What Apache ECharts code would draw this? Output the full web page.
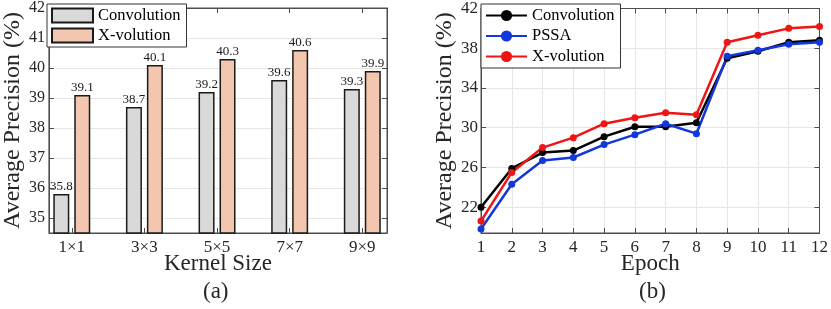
<!DOCTYPE html>
<html>
<head>
<meta charset="utf-8">
<script src="https://cdn.jsdelivr.net/npm/echarts@6/dist/echarts.min.js"></script>
<style>html,body{margin:0;padding:0;background:#fff}#c{width:831px;height:309px}</style>
</head>
<body>
<div id="c"></div>
<script>
// ---- data ----
const kernelSizes = ['1\u00d71', '3\u00d73', '5\u00d75', '7\u00d77', '9\u00d79'];
const convBars = [35.8, 38.7, 39.2, 39.6, 39.3];
const xvolBars = [39.1, 40.1, 40.3, 40.6, 39.9];
const barTicks = [35, 36, 37, 38, 39, 40, 41, 42];

const epochs = [1, 2, 3, 4, 5, 6, 7, 8, 9, 10, 11, 12];
const convLine = [22.0, 25.9, 27.5, 27.7, 29.1, 30.1, 30.1, 30.5, 37.0, 37.7, 38.6, 38.8];
const pssaLine = [19.8, 24.3, 26.7, 27.0, 28.3, 29.3, 30.4, 29.4, 37.2, 37.8, 38.4, 38.6];
const xvolLine = [20.6, 25.5, 28.0, 29.0, 30.4, 31.0, 31.5, 31.3, 38.6, 39.3, 40.0, 40.2];
const lineTicks = [22, 26, 30, 34, 38, 42];

const FONT = '"Liberation Serif", "Times New Roman", serif';
const AX = '#4d4d4d';
const TXT = '#262626';
const GRIDC = '#e6e6e6';

const chart = echarts.init(document.getElementById('c'), null, {renderer: 'canvas'});

function pairs(xs, ys) { return xs.map((x, i) => [x, ys[i]]); }
const barIdx = kernelSizes.map((k, i) => i + 1);

const legendText = {fontFamily: FONT, fontSize: 16.5, color: '#000'};

const option = {
  animation: false,
  backgroundColor: '#fff',
  textStyle: {fontFamily: FONT},
  grid: [
    {left: 47, right: 444, top: 6, bottom: 76, show: true, borderColor: AX, borderWidth: 1, backgroundColor: 'transparent'},
    {left: 481, right: 10, top: 6, bottom: 76, show: true, borderColor: AX, borderWidth: 1, backgroundColor: 'transparent'}
  ],
  legend: [
    {
      left: 47, top: 4, orient: 'vertical', icon: 'rect',
      itemWidth: 41, itemHeight: 14, itemGap: 3,
      padding: [3, 6, 3, 4],
      backgroundColor: '#fff', borderColor: '#333', borderWidth: 1,
      textStyle: legendText,
      data: ['Convolution', 'X-volution']
    },
    {
      left: 481, top: 4, orient: 'vertical',
      itemWidth: 41, itemHeight: 14, itemGap: 3.5,
      padding: [3, 6, 3, 4],
      backgroundColor: '#fff', borderColor: '#333', borderWidth: 1,
      textStyle: legendText,
      formatter: n => n.split('#')[0],
      data: ['Convolution#b', 'PSSA#b', 'X-volution#b']
    }
  ],
  xAxis: [
    {
      gridIndex: 0, type: 'value', min: 0.685, max: 5.34,
      name: 'Kernel Size', nameLocation: 'middle', nameGap: 19, nameMoveOverlap: false,
      nameTextStyle: {fontFamily: FONT, fontSize: 23, color: TXT},
      axisLine: {show: true, lineStyle: {color: AX}},
      axisTick: {show: true, inside: true, length: 5, customValues: barIdx, lineStyle: {color: AX}},
      axisLabel: {customValues: barIdx, formatter: v => kernelSizes[Math.round(v) - 1] || '', fontFamily: FONT, fontSize: 17, color: TXT, margin: 6},
      splitLine: {show: false}
    },
    {
      gridIndex: 0, type: 'value', min: 0.685, max: 5.34, position: 'top',
      axisLine: {show: true, lineStyle: {color: AX}},
      axisTick: {show: true, inside: true, length: 5, customValues: barIdx, lineStyle: {color: AX}},
      axisLabel: {show: false},
      splitLine: {show: false}
    },
    {
      gridIndex: 1, type: 'value', min: 1, max: 12, interval: 1,
      name: 'Epoch', nameLocation: 'middle', nameGap: 19, nameMoveOverlap: false,
      nameTextStyle: {fontFamily: FONT, fontSize: 23, color: TXT},
      axisLine: {show: true, lineStyle: {color: AX}},
      axisTick: {show: true, inside: true, length: 5, lineStyle: {color: AX}},
      axisLabel: {fontFamily: FONT, fontSize: 17, color: TXT, margin: 6},
      splitLine: {show: true, lineStyle: {color: GRIDC, width: 1}}
    },
    {
      gridIndex: 1, type: 'value', min: 1, max: 12, interval: 1, position: 'top',
      axisLine: {show: true, lineStyle: {color: AX}},
      axisTick: {show: true, inside: true, length: 5, lineStyle: {color: AX}},
      axisLabel: {show: false},
      splitLine: {show: false}
    }
  ],
  yAxis: [
    {
      gridIndex: 0, type: 'value', min: 34.5, max: 42,
      name: 'Average Precision (%)', nameLocation: 'middle', nameGap: 20,
      nameTextStyle: {fontFamily: FONT, fontSize: 24, color: TXT},
      axisLine: {show: true, lineStyle: {color: AX}},
      axisTick: {show: true, inside: true, length: 5, customValues: barTicks, lineStyle: {color: AX}},
      axisLabel: {customValues: barTicks, fontFamily: FONT, fontSize: 16, color: TXT, margin: 4},
      splitLine: {show: true, lineStyle: {color: GRIDC, width: 1}}
    },
    {
      gridIndex: 0, type: 'value', min: 34.5, max: 42, position: 'right',
      axisLine: {show: true, lineStyle: {color: AX}},
      axisTick: {show: true, inside: true, length: 5, customValues: barTicks, lineStyle: {color: AX}},
      axisLabel: {show: false},
      splitLine: {show: false}
    },
    {
      gridIndex: 1, type: 'value', min: 19.4, max: 42,
      name: 'Average Precision (%)', nameLocation: 'middle', nameGap: 20,
      nameTextStyle: {fontFamily: FONT, fontSize: 24, color: TXT},
      axisLine: {show: true, lineStyle: {color: AX}},
      axisTick: {show: true, inside: true, length: 5, customValues: lineTicks, lineStyle: {color: AX}},
      axisLabel: {customValues: lineTicks, fontFamily: FONT, fontSize: 17, color: TXT, margin: 3},
      splitLine: {show: true, lineStyle: {color: GRIDC, width: 1}}
    },
    {
      gridIndex: 1, type: 'value', min: 19.4, max: 42, position: 'right',
      axisLine: {show: true, lineStyle: {color: AX}},
      axisTick: {show: true, inside: true, length: 5, customValues: lineTicks, lineStyle: {color: AX}},
      axisLabel: {show: false},
      splitLine: {show: false}
    }
  ],
  graphic: [
    {type: 'text', left: 217 - 14, top: 280, style: {text: '(a)', font: '23px ' + FONT, fill: TXT}},
    {type: 'text', left: 653 - 14, top: 280, style: {text: '(b)', font: '23px ' + FONT, fill: TXT}}
  ],
  series: [
    {
      name: 'Convolution', type: 'bar', xAxisIndex: 0, yAxisIndex: 0,
      data: pairs(barIdx, convBars), barWidth: 16, barGap: '31%',
      itemStyle: {color: '#d9d9d9', borderColor: '#1a1a1a', borderWidth: 1.5},
      label: {show: true, position: 'top', distance: 1, fontFamily: FONT, fontSize: 13, color: '#1a1a1a', formatter: p => p.value[1].toFixed(1)}
    },
    {
      name: 'X-volution', type: 'bar', xAxisIndex: 0, yAxisIndex: 0,
      data: pairs(barIdx, xvolBars), barWidth: 16, barGap: '31%',
      itemStyle: {color: '#f3c6af', borderColor: '#1a1a1a', borderWidth: 1.5},
      label: {show: true, position: 'top', distance: 1, fontFamily: FONT, fontSize: 13, color: '#1a1a1a', formatter: p => p.value[1].toFixed(1)}
    },
    {
      name: 'Convolution#b', type: 'line', xAxisIndex: 2, yAxisIndex: 2,
      data: pairs(epochs, convLine), symbol: 'circle', symbolSize: 7,
      lineStyle: {color: '#000', width: 2.5}, itemStyle: {color: '#000'}
    },
    {
      name: 'PSSA#b', type: 'line', xAxisIndex: 2, yAxisIndex: 2,
      data: pairs(epochs, pssaLine), symbol: 'circle', symbolSize: 7,
      lineStyle: {color: '#1238dc', width: 2.5}, itemStyle: {color: '#1238dc'}
    },
    {
      name: 'X-volution#b', type: 'line', xAxisIndex: 2, yAxisIndex: 2,
      data: pairs(epochs, xvolLine), symbol: 'circle', symbolSize: 7,
      lineStyle: {color: '#f01414', width: 2.5}, itemStyle: {color: '#f01414'}
    }
  ]
};
chart.setOption(option);
</script>
</body>
</html>
